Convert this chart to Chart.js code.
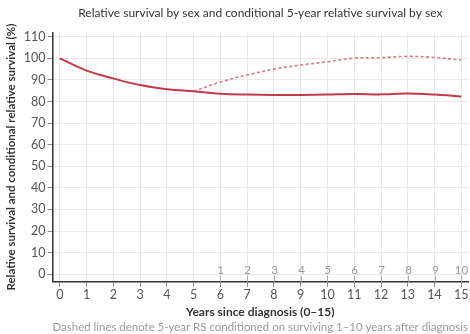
<!DOCTYPE html>
<html>
<head>
<meta charset="utf-8">
<script src="https://cdn.jsdelivr.net/npm/chart.js@4.4.1/dist/chart.umd.min.js"></script>
<style>
html,body{margin:0;padding:0;background:#fff;}
#wrap{width:470px;height:334px;position:relative;}
</style>
</head>
<body>
<div id="wrap"><canvas id="c" width="470" height="334"></canvas></div>
<script>
const years = [0,1,2,3,4,5,6,7,8,9,10,11,12,13,14,15];
const relativeSurvival = [100,94.3,90.7,87.6,85.7,84.7,83.6,83.2,83.0,83.0,83.2,83.5,83.3,83.7,83.2,82.3];
const condYears = [5,6,7,8,9,10,11,12,13,14,15];
const conditionalSurvival = [84.7,89.0,92.3,95.0,96.9,98.4,100.1,100.3,100.9,100.4,99.2];
const condLabels = ['1','2','3','4','5','6','7','8','9','10'];
const condLabelYears = [6,7,8,9,10,11,12,13,14,15];
const yTicks = [0,10,20,30,40,50,60,70,80,90,100,110];

const FONT = 'Lato';

const condPlugin = {
  id: 'condLabels',
  afterDatasetsDraw(chart) {
    const ctx = chart.ctx, xs = chart.scales.x, ys = chart.scales.y;
    const base = ys.bottom;
    ctx.save();
    ctx.strokeStyle = '#aaa';
    ctx.lineWidth = 1;
    ctx.fillStyle = '#999';
    ctx.font = '11.5px ' + FONT;
    ctx.textAlign = 'center';
    ctx.textBaseline = 'bottom';
    condLabelYears.forEach((yr, i) => {
      const px = Math.round(xs.getPixelForValue(yr)) + 0.5;
      ctx.beginPath();
      ctx.moveTo(px, base);
      ctx.lineTo(px, base - 6);
      ctx.stroke();
      ctx.fillText(condLabels[i], px, base - 6);
    });
    ctx.restore();
  }
};

new Chart(document.getElementById('c'), {
  type: 'line',
  data: {
    datasets: [
      {
        data: years.map((x, i) => ({x, y: relativeSurvival[i]})),
        borderColor: '#c23b4b',
        borderWidth: 2,
        pointRadius: 0,
        tension: 0.35,
        fill: false
      },
      {
        data: condYears.map((x, i) => ({x, y: conditionalSurvival[i]})),
        borderColor: '#d47c86',
        borderWidth: 1.6,
        borderDash: [3, 2.5],
        pointRadius: 0,
        tension: 0.35,
        fill: false
      }
    ]
  },
  options: {
    responsive: false,
    animation: false,
    layout: {padding: {left: 4, right: 2, top: 0, bottom: 0}},
    plugins: {
      legend: {display: false},
      tooltip: {enabled: false},
      title: {
        display: true,
        fullSize: false,
        text: 'Relative survival by sex and conditional 5-year relative survival by sex',
        color: '#333',
        font: {family: FONT, size: 12, weight: 'normal'},
        padding: {top: 6, bottom: 12}
      },
      subtitle: {
        display: true,
        fullSize: false,
        position: 'bottom',
        text: 'Dashed lines denote 5-year RS conditioned on surviving 1–10 years after diagnosis',
        color: '#9a9a9a',
        font: {family: FONT, size: 11.5, weight: 'normal'},
        padding: {top: 1, bottom: 0}
      }
    },
    scales: {
      x: {
        type: 'linear',
        min: -0.27,
        max: 15.25,
        afterBuildTicks: (s) => { s.ticks = years.map(v => ({value: v})); },
        ticks: {color: '#555', font: {family: FONT, size: 12.5}, padding: 1, autoSkip: false},
        grid: {color: '#e8e8e8', lineWidth: 1, drawTicks: true, tickLength: 5, tickColor: '#888'},
        border: {color: '#333', width: 1.5},
        title: {display: true, text: 'Years since diagnosis (0–15)', color: '#333',
                font: {family: FONT, size: 12, weight: 'bold'}, padding: {top: 1, bottom: 0}}
      },
      y: {
        type: 'linear',
        min: -3.5,
        max: 112,
        afterBuildTicks: (s) => { s.ticks = yTicks.map(v => ({value: v})); },
        ticks: {color: '#555', font: {family: FONT, size: 12.5}, padding: 2},
        grid: {color: '#e8e8e8', lineWidth: 1, drawTicks: true, tickLength: 5, tickColor: '#888'},
        border: {color: '#333', width: 1.5},
        title: {display: true, text: 'Relative survival and conditional relative survival (%)', color: '#333',
                font: {family: FONT, size: 11.5, weight: 'bold'}, padding: {top: 0, bottom: 4}}
      }
    }
  },
  plugins: [condPlugin]
});
</script>
</body>
</html>
